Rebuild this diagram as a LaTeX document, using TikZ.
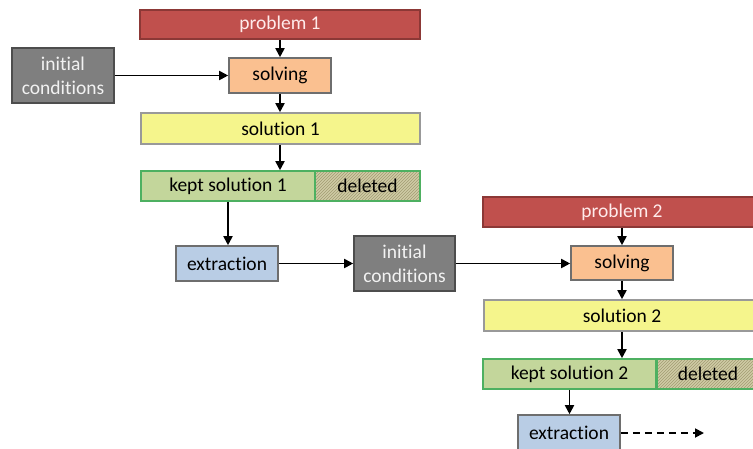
\documentclass[tikz,border=0pt]{standalone}
\usepackage{fontspec}
\setmainfont[Ligatures=NoCommon]{Carlito}
\usetikzlibrary{arrows.meta,patterns}
\definecolor{probred}{HTML}{C0504D}
\definecolor{probborder}{HTML}{8C3836}
\definecolor{icgray}{HTML}{7F7F7F}
\definecolor{icborder}{HTML}{4D4D4D}
\definecolor{solvorange}{HTML}{FAC090}
\definecolor{solyellow}{HTML}{F5F58C}
\definecolor{keptgreen}{HTML}{C3D69B}
\definecolor{keptborder}{HTML}{4EB061}
\definecolor{delbase}{HTML}{CFCBA6}
\definecolor{delline}{HTML}{A29C72}
\definecolor{extblue}{HTML}{B9CDE5}
\definecolor{boxborder}{HTML}{6E6E6E}
\begin{document}
\begin{tikzpicture}[x=1pt,y=-1pt,
  font=\fontsize{19.5}{22}\selectfont,
  box/.style={draw=boxborder,line width=1.6pt,rectangle,inner sep=0pt,align=center},
  prob/.style={box,fill=probred,draw=probborder,text=white!92!red},
  ic/.style={box,fill=icgray,draw=icborder,text=white!90!gray,font=\fontsize{19.5}{24}\selectfont},
  solv/.style={box,fill=solvorange},
  sol/.style={box,fill=solyellow,draw=boxborder!70},
  kept/.style={box,fill=keptgreen,draw=keptborder},
  del/.style={box,draw=keptborder,pattern=north east lines,pattern color=delline},
  ext/.style={box,fill=extblue},
  arr/.style={-{Triangle[length=9pt,width=9pt]},line width=1.8pt,black}
]
\clip (0,0) rectangle (753,448);
\useasboundingbox (0,0) rectangle (753,448);
% --- first stage
\node[prob,minimum width=280pt,minimum height=29pt] (p1) at (280,24.5) {problem 1};
\node[ic,minimum width=102pt,minimum height=55pt] (ic1) at (63,75.5) {initial\\conditions};
\node[solv,minimum width=102pt,minimum height=35pt] (s1) at (280,75.5) {solving};
\node[sol,minimum width=279pt,minimum height=31pt] (sol1) at (280.5,128.5) {solution 1};
\node[kept,minimum width=174pt,minimum height=30pt] (k1) at (228,186) {kept solution 1};
\fill[delbase] (315,171) rectangle (420,201);
\node[del,minimum width=105pt,minimum height=30pt] (d1) at (367.5,186) {deleted};
\node[ext,minimum width=102pt,minimum height=35pt] (e1) at (227,263.5) {extraction};
% --- second stage
\node[ic,minimum width=101pt,minimum height=55pt] (ic2) at (404.5,263.5) {initial\\conditions};
\node[prob,minimum width=280pt,minimum height=30pt,anchor=west] (p2) at (482,212) {};
\node at (622,212) [text=white!92!red] {problem 2};
\node[solv,minimum width=102pt,minimum height=34pt] (s2) at (622,263) {solving};
\node[sol,minimum width=280pt,minimum height=31pt,anchor=west] (sol2) at (483,315.5) {};
\node at (622,315.5) {solution 2};
\node[kept,minimum width=173pt,minimum height=30pt] (k2) at (569.5,374) {kept solution 2};
\fill[delbase] (656,359) rectangle (770,389);
\node[del,minimum width=114pt,minimum height=30pt,anchor=west] (d2) at (656,374) {};
\node at (708,374) {deleted};
\node[ext,minimum width=102pt,minimum height=36pt] (e2) at (569,433) {extraction};
\coordinate (next) at (704,433);
% --- connectors
\draw[arr] (p1.south) -- (s1.north);
\draw[arr] (ic1.east |- s1.west) -- (s1.west);
\draw[arr] (s1.south) -- (sol1.north -| s1.south);
\draw[arr] (sol1.south -| s1.south) -- (k1.north -| s1.south);
\draw[arr] (k1.south) -- (e1.north -| k1.south);
\draw[arr] (e1.east) -- (ic2.west |- e1.east);
\draw[arr] (ic2.east) -- (s2.west |- ic2.east);
\draw[arr] (p2.south -| s2.north) -- (s2.north);
\draw[arr] (s2.south) -- (sol2.north -| s2.south);
\draw[arr] (sol2.south -| s2.south) -- (k2.north -| s2.south);
\draw[arr] (k2.south) -- (e2.north -| k2.south);
\draw[arr,dash pattern=on 7pt off 5pt] (e2.east) -- (next);
\end{tikzpicture}
\end{document}
